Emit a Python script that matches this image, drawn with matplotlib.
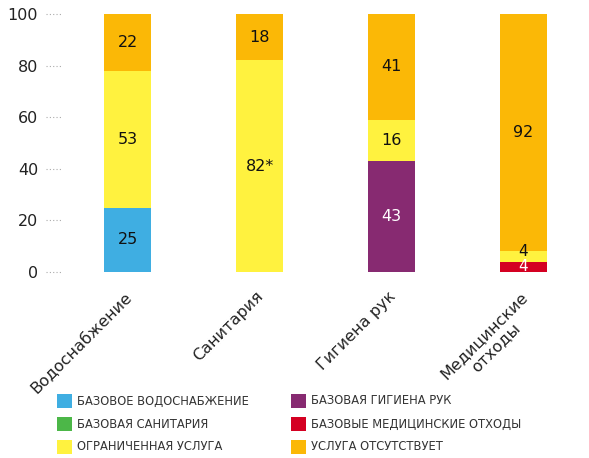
import matplotlib
matplotlib.use("Agg")
import matplotlib.pyplot as plt
from matplotlib.patches import Rectangle
import numpy as np

# data
categories = ["Водоснабжение", "Санитария", "Гигиена рук", "Медицинские\nотходы"]
series_names = ["БАЗОВОЕ ВОДОСНАБЖЕНИЕ", "БАЗОВАЯ САНИТАРИЯ", "ОГРАНИЧЕННАЯ УСЛУГА",
                "БАЗОВАЯ ГИГИЕНА РУК", "БАЗОВЫЕ МЕДИЦИНСКИЕ ОТХОДЫ", "УСЛУГА ОТСУТСТВУЕТ"]
basic_water = [25, 0, 0, 0]
basic_sanitation = [0, 0, 0, 0]
basic_hygiene = [0, 0, 43, 0]
basic_waste = [0, 0, 0, 4]
limited = [53, 82, 16, 4]
no_service = [22, 18, 41, 92]
limited_labels = ["53", "82*", "16", "4"]

colors = {"water": "#3FAEE2", "san": "#4CB748", "limited": "#FFF23F",
          "hyg": "#872A71", "waste": "#D40022", "none": "#FBB806"}

fig = plt.figure(figsize=(5.89, 4.58), dpi=100)
ax = fig.add_axes([45 / 589, 186 / 458, 544 / 589, 258 / 458])

x = np.arange(len(categories))
w = 47 / 132
fs = 11.5

# stack: base services first, then limited, then none
bottom = np.zeros(len(categories))
for vals, c, txtc in [(basic_water, colors["water"], "#111111"),
                      (basic_sanitation, colors["san"], "#111111"),
                      (basic_hygiene, colors["hyg"], "white"),
                      (basic_waste, colors["waste"], "white")]:
    vals = np.array(vals, dtype=float)
    ax.bar(x, vals, w, bottom=bottom, color=c, linewidth=0)
    for i, v in enumerate(vals):
        if v > 0:
            # thin segments: label sits a bit lower so it doesn't clash with the next one
            yl = bottom[i] + (v * 0.55 if v < 6 else v / 2)
            ax.text(x[i], yl, str(int(v)), ha="center", va="center",
                    fontsize=fs if v >= 6 else fs - 0.5, color=txtc)
    bottom += vals

lim = np.array(limited, dtype=float)
ax.bar(x, lim, w, bottom=bottom, color=colors["limited"], linewidth=0)
for i, v in enumerate(lim):
    yl = bottom[i] + (v * 0.95 if v < 6 else v / 2)
    ax.text(x[i], yl, limited_labels[i], ha="center", va="center",
            fontsize=fs if v >= 6 else fs - 0.5, color="#111111")
bottom += lim

ns = np.array(no_service, dtype=float)
ax.bar(x, ns, w, bottom=bottom, color=colors["none"], linewidth=0)
for i, v in enumerate(ns):
    ax.text(x[i], bottom[i] + v / 2, str(int(v)), ha="center", va="center",
            fontsize=fs, color="#111111")

ax.set_xlim(-0.625, 3.496)
ax.set_ylim(0, 100)

# dotted tick lines
for yv in range(0, 101, 20):
    ax.plot([0.002, 17 / 544], [yv, yv], transform=ax.get_yaxis_transform(),
            color="#aaaaaa", linestyle=(0, (1, 2)), linewidth=0.8, clip_on=False)
ax.set_yticks(range(0, 101, 20))
ax.tick_params(axis="y", length=0, pad=5, labelsize=fs, labelcolor="#222222")

ax.set_xticks(x - 0.03)
ax.set_xticklabels(categories, rotation=45, ha="right", rotation_mode="anchor",
                   fontsize=fs, color="#222222", multialignment="center")
ax.tick_params(axis="x", length=0, pad=12)

for s in ax.spines.values():
    s.set_visible(False)

# legend
leg_colors = [colors["water"], colors["san"], colors["limited"],
              colors["hyg"], colors["waste"], colors["none"]]
for k, (name, c) in enumerate(zip(series_names, leg_colors)):
    col, row = divmod(k, 3)
    x0 = 57 + col * 234
    yc = 401 + row * 23
    fig.add_artist(Rectangle((x0 / 589, (458 - yc - 7) / 458), 15 / 589, 14 / 458,
                             transform=fig.transFigure, color=c, linewidth=0))
    fig.text((x0 + 20) / 589, (458 - yc) / 458, name, ha="left", va="center",
             fontsize=8.3, color="#333333")

fig.savefig("out.png", dpi=100)
